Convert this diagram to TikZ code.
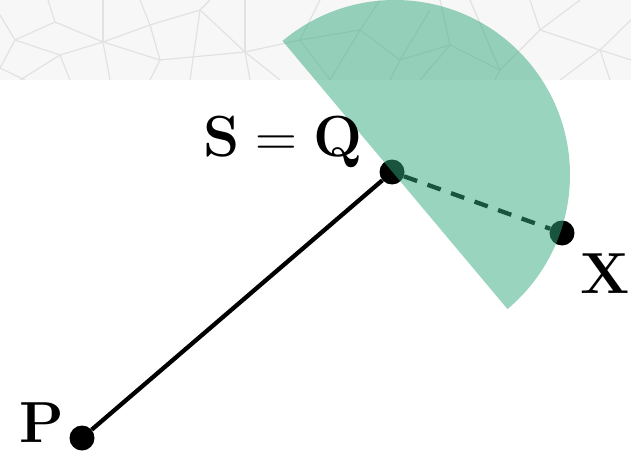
\documentclass[tikz,border=0pt]{standalone}
\usepackage{tikz,amsmath,amssymb}
\usetikzlibrary{arrows.meta}
\definecolor{discgreen}{RGB}{49,169,125}
\definecolor{tilegray}{RGB}{247,247,247}
\definecolor{tileline}{RGB}{226,226,226}

\begin{document}
\begin{tikzpicture}[x=1pt,y=1pt,
  dot/.style={circle,fill=black,inner sep=0pt,minimum size=25pt},
  lbl/.style={font=\Huge,scale=2.33,inner sep=0pt}]
\useasboundingbox (0,0) rectangle (631,456);
\begin{scope}
\clip (0,376) rectangle (631,456);
\fill[tilegray] (0,376) rectangle (631,456);
\foreach \a/\b/\c/\d in {0/15/15/40,15/40/0/68,15/40/55/22,55/22/48/0,55/22/103/42,15/40/60/55,60/55/103/42,60/55/70/80,
  103/42/103/0,103/42/150/25,150/25/140/0,150/25/160/60,103/42/160/60,160/60/150/80,150/25/200/10,200/10/210/0,
  200/10/245/52,160/60/245/52,245/52/245/0,245/52/250/80,245/52/300/40,300/40/320/0,300/40/330/80,300/40/360/30,
  360/30/380/0,360/30/400/60,400/60/390/80,400/60/450/45,450/45/440/0,450/45/500/70,500/70/495/80,500/70/540/30,
  540/30/530/0,540/30/600/50,600/50/631/20,600/50/610/80,540/30/580/0,360/30/330/80,450/45/420/80,200/10/190/80,
  0/68/25/80,60/55/20/80,103/42/110/80,245/52/280/80,400/60/430/10,500/70/470/0,600/50/560/80,631/60/600/50}
  {\draw[tileline,line width=1.2pt] (\a,456-\b) -- (\c,456-\d);}
\end{scope}
\node[dot] (P) at (82,18) {};
\node[dot] (Q) at (392,284) {};
\node[dot] (X) at (562,223) {};
\draw[line width=4.3pt] (P) -- (Q);
\draw[line width=4.3pt,dash pattern=on 14pt off 11pt] (Q) -- (X);
\coordinate (C) at (395,281);
\fill[discgreen,opacity=.5] (C) -- ++(130:175) arc[start angle=130,end angle=-50,radius=175] -- cycle;
\node[lbl,anchor=base] (lP) at (42,14) {$\mathbf{P}$};
\node[lbl,anchor=base] (lX) at (605,163) {$\mathbf{X}$};
\node[lbl,anchor=base] (lQ) at (283,300) {$\mathbf{S=Q}$};
\end{tikzpicture}
\end{document}
